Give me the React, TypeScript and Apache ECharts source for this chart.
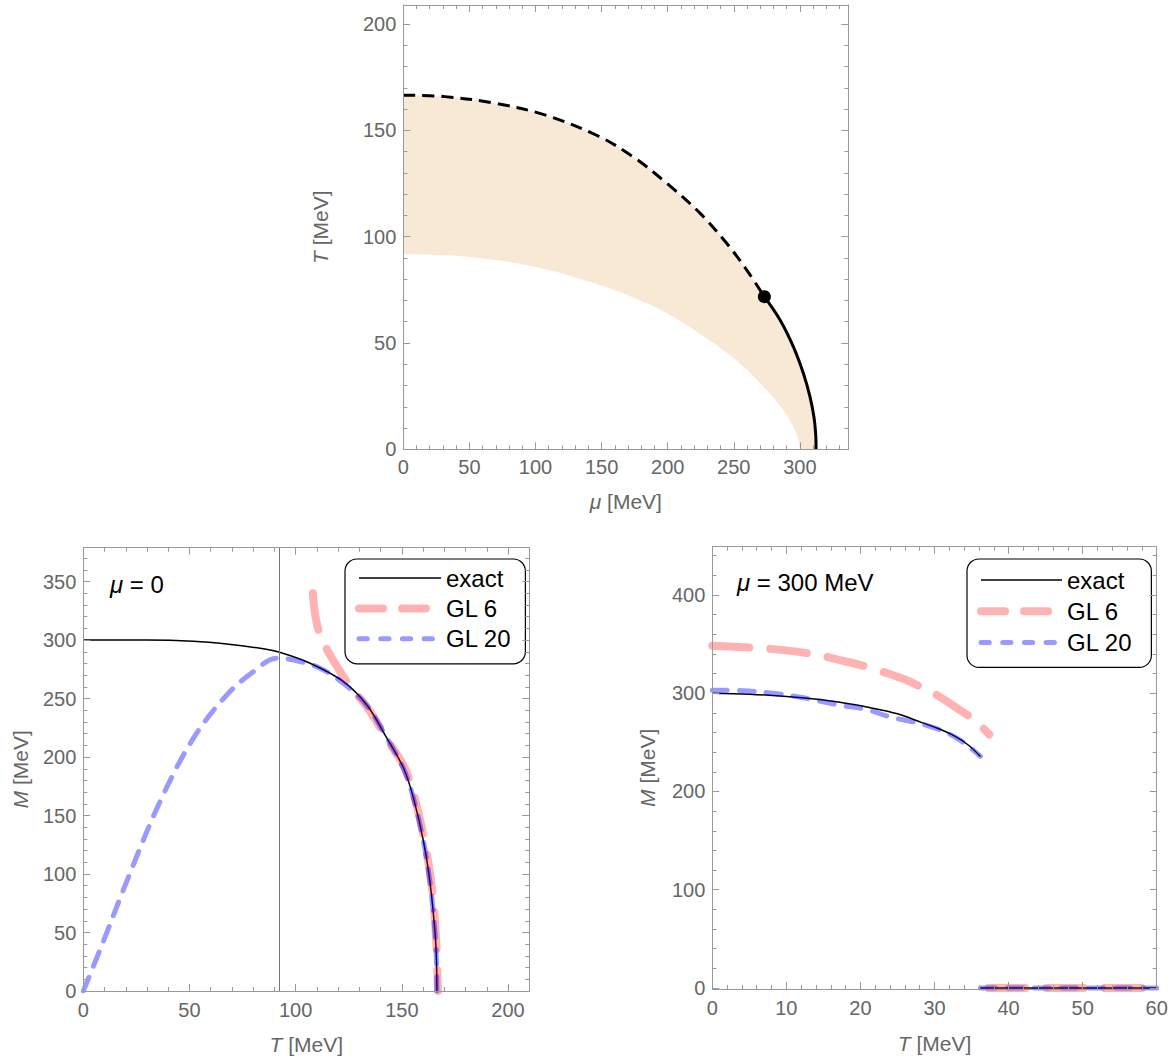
import React, { useEffect, useRef } from "react";
import * as echarts from "echarts";

const FONT = '"Liberation Sans", Arial, Helvetica, sans-serif';
const FRAME = "#999999";
const LABEL = "#666666";
const BAND = "#F7E9D5";
const PINK = "rgba(255,0,0,0.3)";
const BLUE = "rgba(0,0,255,0.4)";

// ---------- top panel: phase diagram (mu, T) ----------
const crossoverLine = [
  [0, 166.6], [31.5, 165.9], [69.3, 162.8], [107.1, 157.3], [147, 147.5],
  [174, 137.5], [199.2, 125.2], [224.4, 111.1], [244.6, 96.9], [259.7, 84.4], [273.1, 71.8],
];
const firstOrderLine = [
  [273.1, 71.8], [285, 60.8], [295, 48.3], [302.6, 35.8], [307.6, 24.8],
  [310.6, 15.3], [311.9, 7.4], [312.2, 0],
];
const bandLowerEdge = [
  [0, 91.9], [47.9, 90.6], [98.3, 86], [148.7, 77.3], [184.1, 68.7], [204.2, 62.4],
  [229.4, 52.2], [254.6, 40.5], [274.8, 27.9], [287.4, 18.5], [295, 10.6], [298.8, 4.4], [300, 0],
];
const criticalPoint = [273.1, 71.8];
const topMuTicks = [0, 50, 100, 150, 200, 250, 300];
const topTTicks = [0, 50, 100, 150, 200];

// ---------- bottom-left: mu = 0 ----------
const exactMu0 = [
  [0, 300], [30, 300], [51.8, 299], [67.5, 296.7], [83.3, 293], [92.4, 289.6],
  [106.8, 280.2], [122.5, 264.5], [133.5, 244.5], [143, 216], [150.8, 190.4],
  [155.5, 164.7], [160.2, 127.7], [163.4, 90.6], [165.7, 47.9], [166.3, 25], [166.5, 0],
];
const gl6Mu0 = [
  [108.1, 340], [109.2, 321.5], [111.5, 304.4], [116.2, 287.3], [125.7, 260.2],
  [133.5, 243], [143.5, 214], [151.5, 190], [156.5, 162], [161, 125], [164.2, 88],
  [166, 48], [167, 0],
];
const gl20Mu0 = [
  [0, 0], [9.4, 42.2], [20.4, 93.5], [36.1, 161.9], [51.8, 216], [67.5, 253],
  [80.1, 273], [91.1, 284.5], [99, 283], [111.5, 276], [122.5, 263], [133.5, 244],
  [143, 216], [150.8, 190], [155.5, 164.5], [160.2, 127.5], [163.4, 90.5],
  [165.7, 48], [166.3, 25], [166.5, 0],
];
const refLineT = 92.4;
const blTTicks = [0, 50, 100, 150, 200];
const blMTicks = [0, 50, 100, 150, 200, 250, 300, 350];

// ---------- bottom-right: mu = 300 MeV ----------
const exactMu300 = [
  [0, 300], [5, 299], [12.5, 295], [17, 291], [21.5, 285], [25, 279],
  [28.3, 270], [30.5, 264], [32.8, 256], [34.6, 247], [36.2, 235.6],
];
const exactMu300Zero = [[36.2, 0], [60, 0]];
const gl6Mu300 = [
  [0, 348.3], [6, 346], [10, 343.5], [14.1, 339], [17, 334], [20.8, 327],
  [22.9, 322], [26.1, 313.6], [28.5, 305], [30.6, 296.7], [33.3, 283.4],
  [35.5, 272], [37.4, 258],
];
const gl6Mu300Zero = [[37.3, 0], [60, 0]];
const gl20Mu300 = [
  [0, 303], [4, 302.5], [8.1, 300], [12.5, 295], [17.1, 288], [21, 283],
  [23.9, 276], [27.5, 270], [30.6, 263], [33.5, 252], [36.2, 235.6],
];
const gl20Mu300Zero = [[36.2, 0], [60, 0]];
const brTTicks = [0, 10, 20, 30, 40, 50, 60];
const brMTicks = [0, 100, 200, 300, 400];

const legendNames = ["exact", "GL 6", "GL 20"];

function minorValues(min: number, max: number, step: number, majors: number[]) {
  const out: number[] = [];
  const start = Math.ceil(min / step);
  const end = Math.floor(max / step);
  for (let i = start; i <= end; i++) {
    const v = Math.round(i * step * 1000) / 1000;
    if (!majors.some((m) => Math.abs(m - v) < 1e-6)) out.push(v);
  }
  return out;
}

function axisSet(
  grid: number,
  near: string,
  far: string,
  min: number,
  max: number,
  majors: number[],
  minorStep: number,
  name: string,
  nameGap: number,
  margin: number
) {
  const minors = minorValues(min, max, minorStep, majors);
  const base = {
    type: "value",
    gridIndex: grid,
    min,
    max,
    z: 10,
    splitLine: { show: false },
    splitArea: { show: false },
  };
  const line = { show: true, onZero: false, lineStyle: { color: FRAME, width: 1 } };
  const noLine = { show: false, onZero: false };
  const tickStyle = { color: FRAME, width: 1 };
  return [
    {
      ...base,
      position: near,
      axisLine: line,
      axisTick: { show: true, inside: true, length: 7, customValues: majors, lineStyle: tickStyle },
      axisLabel: {
        show: true,
        customValues: majors,
        color: LABEL,
        fontSize: 20,
        fontFamily: FONT,
        margin,
      },
      name,
      nameLocation: "middle",
      nameGap,
      nameTextStyle: {
        color: LABEL,
        fontSize: 21,
        fontFamily: FONT,
        rich: {
          i: { fontStyle: "italic", color: LABEL, fontSize: 21, fontFamily: FONT },
        },
      },
    },
    {
      ...base,
      position: near,
      axisLine: noLine,
      axisTick: { show: true, inside: true, length: 4, customValues: minors, lineStyle: tickStyle },
      axisLabel: { show: false },
    },
    {
      ...base,
      position: far,
      axisLine: line,
      axisTick: { show: true, inside: true, length: 7, customValues: majors, lineStyle: tickStyle },
      axisLabel: { show: false },
    },
    {
      ...base,
      position: far,
      axisLine: noLine,
      axisTick: { show: true, inside: true, length: 4, customValues: minors, lineStyle: tickStyle },
      axisLabel: { show: false },
    },
  ];
}

const exactLine = { color: "#000", width: 1.5, type: "solid" };
const gl6Line = { color: PINK, width: 8, type: [37, 21], cap: "round" };
const gl20Line = { color: BLUE, width: 5, type: [15, 12], cap: "round" };

function lineSeries(name: string, data: number[][], grid: number, lineStyle: any, extra: any = {}) {
  return {
    type: "line",
    name,
    data,
    xAxisIndex: grid * 4,
    yAxisIndex: grid * 4,
    symbol: "none",
    showSymbol: false,
    smooth: 0.35,
    clip: true,
    color: lineStyle.color,
    lineStyle,
    silent: true,
    ...extra,
  };
}

function legendFor(left: number, top: number, padding: number[], itemWidth: number, itemGap: number) {
  return {
    orient: "vertical",
    left,
    top,
    padding,
    itemWidth,
    itemHeight: 14,
    itemGap,
    selectedMode: false,
    backgroundColor: "#ffffff",
    borderColor: "#000000",
    borderWidth: 1.2,
    borderRadius: 12,
    textStyle: { color: "#000", fontSize: 24, fontFamily: FONT, lineHeight: 24 },
    data: [
      {
        name: legendNames[0],
        itemStyle: { opacity: 0 },
        lineStyle: { color: "#000", width: 1.5, type: "solid" },
      },
      {
        name: legendNames[1],
        itemStyle: { opacity: 0 },
        lineStyle: { color: PINK, width: 8, type: [24, 19], cap: "round" },
      },
      {
        name: legendNames[2],
        itemStyle: { opacity: 0 },
        lineStyle: { color: BLUE, width: 5, type: [8.3, 13.4], cap: "round" },
      },
    ],
  };
}

function buildOption() {
  const upperBoundary = [...crossoverLine, ...firstOrderLine.slice(1)];

  const xAxes = [
    ...axisSet(0, "bottom", "top", 0, 336.6, topMuTicks, 10, "{i|μ} [MeV]", 42, 8),
    ...axisSet(1, "bottom", "top", 0, 210, blTTicks, 10, "{i|T} [MeV]", 43, 9),
    ...axisSet(2, "bottom", "top", 0, 60, brTTicks, 2, "{i|T} [MeV]", 44, 9),
  ];
  const yAxes = [
    ...axisSet(0, "left", "right", 0, 209, topTTicks, 10, "{i|T} [MeV]", 72, 7),
    ...axisSet(1, "left", "right", 0, 379, blMTicks, 10, "{i|M} [MeV]", 52, 7),
    ...axisSet(2, "left", "right", -1, 449, brMTicks, 20, "{i|M} [MeV]", 54, 7),
  ];

  const series: any[] = [
    // top panel band
    {
      type: "line",
      name: "band-upper",
      data: upperBoundary,
      xAxisIndex: 0,
      yAxisIndex: 0,
      symbol: "none",
      smooth: 0.35,
      lineStyle: { width: 0, opacity: 0 },
      areaStyle: { color: BAND, opacity: 1, origin: "start" },
      silent: true,
      z: 1,
    },
    {
      type: "line",
      name: "band-lower",
      data: bandLowerEdge,
      xAxisIndex: 0,
      yAxisIndex: 0,
      symbol: "none",
      smooth: 0.35,
      lineStyle: { width: 0, opacity: 0 },
      areaStyle: { color: "#ffffff", opacity: 1, origin: "start" },
      silent: true,
      z: 1,
    },
    lineSeries("crossover", crossoverLine, 0, { color: "#000", width: 3, type: [12, 7] }),
    lineSeries("first order", firstOrderLine, 0, { color: "#000", width: 3, type: "solid" }),
    {
      type: "scatter",
      name: "critical point",
      data: [criticalPoint],
      xAxisIndex: 0,
      yAxisIndex: 0,
      symbol: "circle",
      symbolSize: 13,
      itemStyle: { color: "#000", opacity: 1 },
      silent: true,
      z: 5,
    },
    // bottom-left
    lineSeries("exact", exactMu0, 1, exactLine, {
      markLine: {
        silent: true,
        symbol: "none",
        label: { show: false },
        lineStyle: { color: "#777777", width: 1, type: "solid" },
        data: [{ xAxis: refLineT }],
      },
    }),
    lineSeries("GL 6", gl6Mu0, 1, gl6Line),
    lineSeries("GL 20", gl20Mu0, 1, gl20Line),
    // bottom-right
    lineSeries("exact", exactMu300, 2, exactLine),
    lineSeries("exact", exactMu300Zero, 2, exactLine),
    lineSeries("GL 6", gl6Mu300, 2, gl6Line),
    lineSeries("GL 6", gl6Mu300Zero, 2, gl6Line),
    lineSeries("GL 20", gl20Mu300, 2, gl20Line),
    lineSeries("GL 20", gl20Mu300Zero, 2, gl20Line),
  ];

  const annot = (x: number, y: number, text: string) => ({
    type: "text",
    x,
    y,
    z: 20,
    style: {
      text,
      fill: "#000",
      fontSize: 24,
      fontFamily: FONT,
      verticalAlign: "middle",
      align: "left",
      rich: {
        i: { fontStyle: "italic", fontSize: 24, fontFamily: FONT, fill: "#000" },
      },
    },
  });

  return {
    animation: false,
    backgroundColor: "#ffffff",
    textStyle: { fontFamily: FONT },
    grid: [
      { left: 403.3, top: 5, width: 445, height: 444.3, containLabel: false },
      { left: 83.3, top: 547.7, width: 446, height: 443.3, containLabel: false },
      { left: 712.3, top: 546.7, width: 444.4, height: 442.3, containLabel: false },
    ],
    xAxis: xAxes,
    yAxis: yAxes,
    legend: [
      legendFor(345, 559, [7, 14, 13, 10], 82, 6.4),
      legendFor(967, 559, [9, 19, 13, 10], 81, 7.2),
    ],
    graphic: [annot(110, 584, "{i|μ} = 0"), annot(737, 582, "{i|μ} = 300 MeV")],
    series,
  };
}

export default function App() {
  const ref = useRef<HTMLDivElement>(null);
  useEffect(() => {
    if (!ref.current) return;
    const chart = echarts.init(ref.current, null, { renderer: "svg" });
    chart.setOption(buildOption() as any);
    return () => chart.dispose();
  }, []);
  return (
    <div
      ref={ref}
      style={{ position: "fixed", left: 0, top: 0, width: 1173, height: 1058, background: "#fff" }}
    />
  );
}
